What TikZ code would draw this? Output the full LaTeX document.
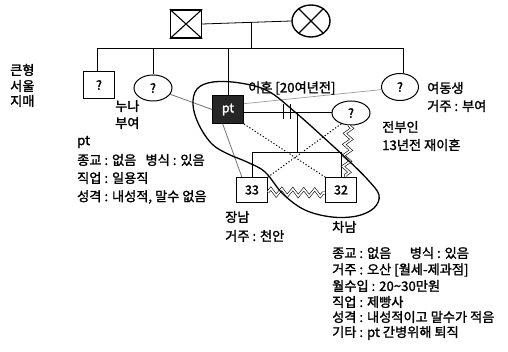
\documentclass[tikz,border=0pt]{standalone}
\usepackage{fontspec}
\setmainfont{Noto Sans CJK KR}[FakeBold=1.6]
\usetikzlibrary{shapes.geometric,decorations.pathmorphing,calc}
\begin{document}
\begin{tikzpicture}[x=1pt,y=-1pt,
  sq/.style={draw, line width=1pt, minimum width=31pt, minimum height=26pt, inner sep=0pt, font=\fontsize{12.5}{12.5}\selectfont},
  circ/.style={draw, ellipse, line width=1pt, minimum width=38pt, minimum height=26pt, inner sep=0pt, font=\fontsize{12.5}{12.5}\selectfont},
  ln/.style={line width=0.8pt},
  gln/.style={line width=0.8pt, draw=black!55},
  dot/.style={line width=1pt, dash pattern=on 1.2pt off 2pt},
  zz/.style={decorate, decoration={zigzag, segment length=11pt, amplitude=3.5pt}, double, double distance=1.6pt, line width=0.6pt},
  lbl/.style={anchor=west, inner sep=0pt, font=\fontsize{13.2}{13.2}\selectfont}
]
\useasboundingbox (0,0) rectangle (508,352);

% parents
\node[sq, line width=1.4pt, minimum width=31pt, minimum height=28pt] (fa) at (186,24) {};
\draw[line width=1.1pt] (fa.north west) -- (fa.south east) (fa.north east) -- (fa.south west);
\node[circ, line width=1.4pt, minimum width=38pt, minimum height=32pt] (mo) at (311,21) {};
\draw[line width=1.1pt] (mo.45) -- (mo.225) (mo.135) -- (mo.315);
\draw[ln] (fa.east) -- (mo.west);
\coordinate (pm) at (251,22);
\coordinate (pd) at (251,48);
\draw[ln] (pm) -- (pd);
\coordinate (sibL) at (97,48);
\coordinate (sibR) at (403,48);
\draw[ln] (sibL) -- (sibR);

% siblings
\node[sq, minimum height=27pt] (bb) at (99,85) {?};
\node[circ] (si) at (153,88) {?};
\node[sq, fill=black!85, minimum height=28pt, text=white] (pt) at (228,109.5) {pt};
\node[circ, minimum width=37pt, minimum height=27pt] (ys) at (400,87) {?};
\draw[ln] (bb.north -| sibL) -- (sibL);
\draw[ln] (si.north) -- (si.north |- sibL);
\draw[ln] (pt.north) -- (pt.north |- sibL);
\draw[ln] (sibR) -- (sibR |- ys.north);

% ex-wife and children
\node[circ, minimum width=38pt, minimum height=24pt] (ew) at (351,113) {?};
\node[sq, minimum height=25pt] (s33) at (252,190) {33};
\node[sq, minimum height=25pt] (s32) at (341,190) {32};

\draw[ln] (pt.east |- 0,112) -- (ew.west |- 0,112);
\coordinate (d1t) at (283,104); \coordinate (d1b) at (283,119);
\coordinate (d2t) at (290,104); \coordinate (d2b) at (290,119);
\draw[ln] (d1t) -- (d1b) (d2t) -- (d2b);
\coordinate (cm) at (297,112);
\coordinate (cs) at (297,152);
\draw[ln] (cm) -- (cs);
\coordinate (csL) at (252,152);
\coordinate (csR) at (341,152);
\draw[ln] (csL) -- (csR);
\draw[ln] (csL) -- (s33.north);
\draw[ln] (csR) -- (s32.north);

% relationship lines
\draw[gln] (si) -- (pt.west);
\draw[line width=0.7pt, draw=black!40] (pt.20) -- (ys.188);
\draw[gln] (pt.-110) -- (s33.128);
\draw[dot] (pt.south east) -- (s32.north west);
\draw[dot] (ew.228) -- (s33.north east);
\draw[zz] ($(s33.east)+(0,2)$) -- ($(s32.west)+(0,3)$);
\draw[zz] (ew.-100) -- (s32.70);

% household boundary
\draw[line width=1.3pt] plot[smooth cycle, tension=0.6] coordinates {
 (213,82) (240,83) (268,91) (295,112) (322,136) (348,160) (368,180) (379,195)
 (374,208) (357,216) (332,217) (305,210) (283,194) (265,172) (247,162)
 (228,154) (212,144) (199,125) (193,105) (197,89)};

% labels
\node[lbl] (t1) at (10,70) {큰형};
\node[lbl] (t2) at (10,86) {서울};
\node[lbl] (t3) at (10,101) {지매};
\node[lbl] (t4) at (115,106) {누나};
\node[lbl] (t5) at (115,123) {부여};
\node[lbl] (t6) at (77,142) {pt};
\node[lbl] (t7) at (77,160) {종교 : 없음\hspace{0.7em}병식 : 있음};
\node[lbl] (t8) at (77,178) {직업 : 일용직};
\node[lbl] (t9) at (77,197) {성격 : 내성적, 말수 없음};
\node[lbl] (t10) at (248,88) {이혼 [20여년전]};
\node[lbl] (t11) at (427,88) {여동생};
\node[lbl] (t12) at (427,106) {거주 : 부여};
\node[lbl] (t13) at (382,127) {전부인};
\node[lbl] (t14) at (382,145) {13년전 재이혼};
\node[lbl] (t15) at (225,217) {장남};
\node[lbl] (t16) at (225,236) {거주 : 천안};
\node[lbl] (t17) at (332,227) {차남};
\node[lbl] (t18) at (332,253) {종교 : 없음\hspace{1.4em}병식 : 있음};
\node[lbl] (t19) at (332,270) {거주 : 오산 [월세-제과점]};
\node[lbl] (t20) at (332,286) {월수입 : 20\textasciitilde 30만원};
\node[lbl] (t21) at (332,302) {직업 : 제빵사};
\node[lbl] (t22) at (332,317) {성격 : 내성적이고 말수가 적음};
\node[lbl] (t23) at (332,333) {기타 : pt 간병위해 퇴직};
\end{tikzpicture}
\end{document}
